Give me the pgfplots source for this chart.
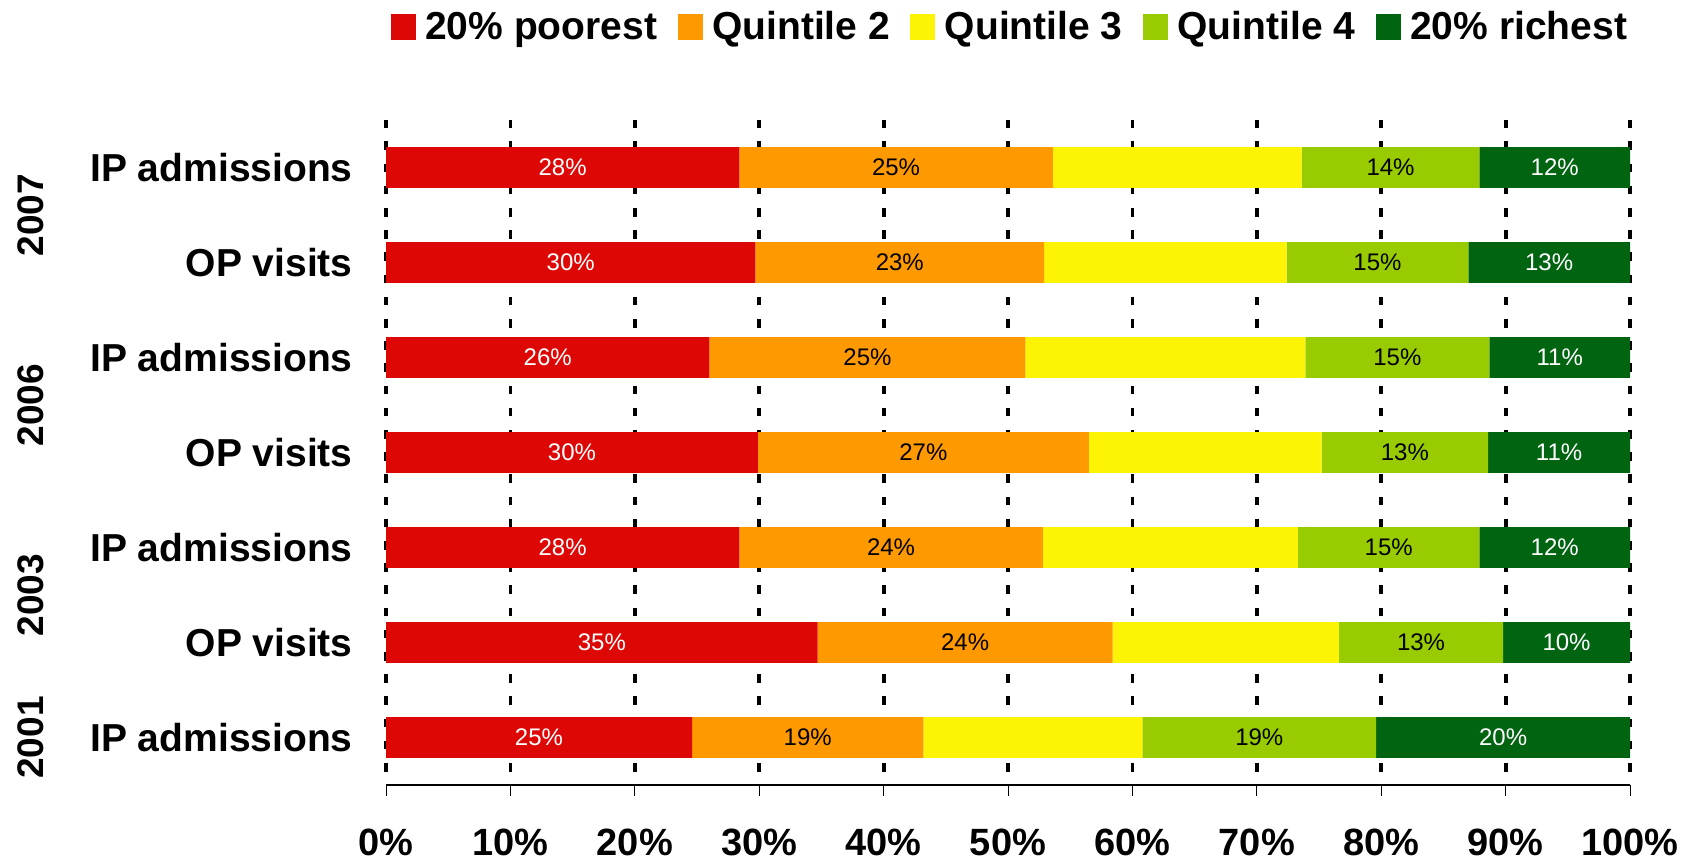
\documentclass[border=0pt]{standalone}
\usepackage{pgfplots}
\usepackage{pgfplotstable}
\pgfplotsset{compat=1.18}
\usepackage{fontspec}
\setmainfont{Liberation Sans}

\definecolor{qpoor}{HTML}{DD0806}
\definecolor{qtwo}{HTML}{FF9900}
\definecolor{qthree}{HTML}{FCF305}
\definecolor{qfour}{HTML}{99CC00}
\definecolor{qrich}{HTML}{006411}

% Share (%) of services used by each wealth quintile.
% row 7 = 2007 IP admissions (top bar) ... row 1 = 2001 IP admissions
\pgfplotstableread{
row val
7 28.4
6 29.7
5 26.0
4 29.9
3 28.4
2 34.7
1 24.6
}\poorest
\pgfplotstableread{
row val
7 25.2
6 23.2
5 25.4
4 26.6
3 24.4
2 23.7
1 18.6
}\quinttwo
\pgfplotstableread{
row val
7 20.0
6 19.5
5 22.5
4 18.7
3 20.5
2 18.2
1 17.6
}\quintthree
\pgfplotstableread{
row val
7 14.3
6 14.6
5 14.8
4 13.4
3 14.6
2 13.2
1 18.8
}\quintfour
\pgfplotstableread{
row val
7 12.1
6 13.0
5 11.3
4 11.4
3 12.1
2 10.2
1 20.4
}\richest

\newcommand\yearfont{\fontsize{18.5pt}{20pt}\selectfont\bfseries}
\newcommand\valfont{\fontsize{12pt}{14pt}\selectfont}

% segment value printed in the middle of its bar piece
\pgfplotsset{
  seglabel/.style={
    nodes near coords={\pgfmathprintnumber[fixed,precision=0,assume math mode=true]{\pgfplotspointmeta}\%},
    point meta=explicit,
    nodes near coords style={font=\valfont, text=#1, anchor=center},
  },
}

\begin{document}
\begin{tikzpicture}
\path[use as bounding box] (0,0) rectangle (848pt,430.5pt);
\begin{axis}[
  at={(193pt,38pt)}, anchor=south west,
  scale only axis, width=622pt, height=332.5pt,
  xbar stacked, bar width=0.43,
  xmin=0, xmax=100, ymin=0.5, ymax=7.5,
  enlargelimits=false,
  clip=false,
  axis x line*=bottom, axis y line*=left,
  y axis line style={draw=none},
  x axis line style={line width=0.75pt},
  xtick={0,10,...,100},
  xticklabels={0\%,10\%,20\%,30\%,40\%,50\%,60\%,70\%,80\%,90\%,100\%},
  xtick align=outside,
  xtick style={black, line width=0.5pt},
  major tick length=5.5pt,
  xticklabel style={font=\fontsize{19pt}{21pt}\selectfont\bfseries, inner sep=0pt, yshift=-16.5pt},
  ytick={1,...,7},
  yticklabels={IP admissions, OP visits, IP admissions, OP visits, IP admissions, OP visits, IP admissions},
  ytick style={draw=none},
  yticklabel style={font=\fontsize{19.5pt}{22pt}\selectfont\bfseries, inner sep=0pt, xshift=-16.5pt},
  xmajorgrids,
  major grid style={black, line width=1.9pt, dash pattern=on 4.25pt off 6.85pt, dash phase=4.4pt},
  legend columns=5,
  legend style={at={(0.5024,1.14)}, anchor=center, draw=none, fill=none,
    font=\fontsize{19.5pt}{22pt}\selectfont\bfseries,
    /tikz/every odd column/.append style={column sep=2.7pt},
    /tikz/every even column/.append style={column sep=8.3pt}},
  legend image code/.code={\fill[#1] (0pt,-6.5pt) rectangle (12.5pt,6.5pt);},
]
\addplot[fill=qpoor, draw=none, seglabel=white] table[x=val,y=row,meta=val] {\poorest};
\addplot[fill=qtwo, draw=none, seglabel=black] table[x=val,y=row,meta=val] {\quinttwo};
\addplot[fill=qthree, draw=none] table[x=val,y=row] {\quintthree};
\addplot[fill=qfour, draw=none, seglabel=black] table[x=val,y=row,meta=val] {\quintfour};
\addplot[fill=qrich, draw=none, seglabel=white] table[x=val,y=row,meta=val] {\richest};
\legend{20\% poorest, Quintile 2, Quintile 3, Quintile 4, 20\% richest}

\node[rotate=90, font=\yearfont] at ([xshift=-177.5pt]axis cs:0,6.5) {2007};
\node[rotate=90, font=\yearfont] at ([xshift=-177.5pt]axis cs:0,4.5) {2006};
\node[rotate=90, font=\yearfont] at ([xshift=-177.5pt]axis cs:0,2.5) {2003};
\node[rotate=90, font=\yearfont] at ([xshift=-177.5pt]axis cs:0,1) {2001};
\end{axis}
\end{tikzpicture}
\end{document}
